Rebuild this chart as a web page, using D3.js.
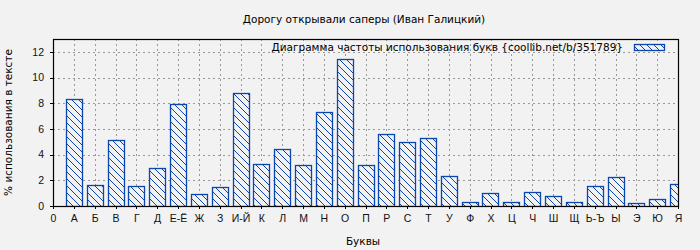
<!DOCTYPE html>
<html>
<head>
<meta charset="utf-8">
<style>
body{
  margin: 0;
  background-color: #f2f2f2;
}
svg{
  display: block;
  font-family: "DejaVu Sans", sans-serif;
}
.grid .tick line{
  stroke: #999;
  stroke-dasharray: 2,3;
  shape-rendering: crispEdges;
}
.grid path{
  stroke-width: 0;
}
.axis text{
  font-size: 10.5px;
  fill: #111;
}
.axis path, .axis line{
  stroke: #000;
  shape-rendering: crispEdges;
}
</style>
</head>
<body>
<script src="https://cdn.jsdelivr.net/npm/d3@7"></script>
<script>
  var WIDTH = 700;
  var HEIGHT = 250;

  var letters = ["А","Б","В","Г","Д","Е-Ё","Ж","З","И-Й","К","Л","М","Н","О","П",
                 "Р","С","Т","У","Ф","Х","Ц","Ч","Ш","Щ","Ь-Ъ","Ы","Э","Ю","Я"];
  var percents = [8.33, 1.62, 5.13, 1.54, 2.94, 7.94, 0.91, 1.46, 8.80, 3.26, 4.43, 3.18, 7.32, 11.46, 3.18,
                  5.60, 4.98, 5.29, 2.32, 0.29, 0.99, 0.29, 1.07, 0.76, 0.29, 1.54, 2.24, 0.21, 0.52, 1.69];
  var yTicks = [0, 2, 4, 6, 8, 10, 12];

  var title = "Дорогу открывали саперы (Иван Галицкий)";
  var legendText = "Диаграмма частоты использования букв {coollib.net/b/351789}";

  var PL = 53, PR = 678, PT = 39, PB = 206;
  var BLUE = "#0a46b0";

  var xScale = d3.scaleLinear()
    .domain([0, letters.length])
    .range([PL, PR]);

  var yScale = d3.scaleLinear()
    .domain([0, 13])
    .range([PB, PT]);

  var svg = d3.select("body").append("svg")
    .attr("width", WIDTH)
    .attr("height", HEIGHT);

  var defs = svg.append("defs");
  var pat = defs.append("pattern")
    .attr("id", "hatch")
    .attr("patternUnits", "userSpaceOnUse")
    .attr("width", 7)
    .attr("height", 7);
  pat.append("rect").attr("width", 7).attr("height", 7).attr("fill", "#f2f2f2");
  pat.append("path")
    .attr("d", "M-1,-1 L8,8 M-1,6 L1,8 M6,-1 L8,1")
    .attr("stroke", BLUE)
    .attr("stroke-width", 1);

  defs.append("clipPath").attr("id", "plotClip")
    .append("rect")
      .attr("x", PL).attr("y", PT)
      .attr("width", PR - PL).attr("height", PB - PT);

  // grid
  var tickVals = d3.range(1, letters.length + 1);
  svg.append("g")
    .attr("class", "grid")
    .attr("transform", `translate(0,${PB})`)
    .call(d3.axisBottom(xScale).tickValues(tickVals).tickSize(-(PB - PT)).tickFormat(""));

  svg.append("g")
    .attr("class", "grid")
    .attr("transform", `translate(${PL},0)`)
    .call(d3.axisLeft(yScale).tickValues(yTicks.slice(1)).tickSize(-(PR - PL)).tickFormat(""));

  // bars
  var barW = 16;
  svg.append("g")
    .attr("clip-path", "url(#plotClip)")
    .selectAll("rect.bar")
    .data(percents)
    .enter()
    .append("rect")
      .attr("class", "bar")
      .attr("x", (d, i) => Math.round(xScale(i + 1) - barW / 2) + 0.5)
      .attr("y", (d) => Math.round(yScale(d)) + 0.5)
      .attr("width", barW)
      .attr("height", (d) => Math.round(yScale(0)) - Math.round(yScale(d)))
      .attr("fill", "url(#hatch)")
      .attr("stroke", BLUE)
      .attr("stroke-width", 1.3);

  // frame
  svg.append("rect")
    .attr("x", PL + 0.5).attr("y", PT + 0.5)
    .attr("width", PR - PL).attr("height", PB - PT)
    .attr("fill", "none")
    .attr("stroke", "#000")
    .attr("stroke-width", 1.2);

  // axes
  svg.append("g")
    .attr("class", "axis")
    .attr("transform", `translate(0,${PB})`)
    .call(d3.axisBottom(xScale)
      .tickValues(d3.range(0, letters.length + 1))
      .tickSize(3).tickPadding(6)
      .tickFormat((d) => d === 0 ? "0" : letters[d - 1]))
    .call((g) => g.select(".domain").remove());

  svg.append("g")
    .attr("class", "axis")
    .attr("transform", `translate(${PL},0)`)
    .call(d3.axisLeft(yScale).tickValues(yTicks).tickSize(3).tickPadding(6))
    .call((g) => g.select(".domain").remove());

  // title and labels
  svg.append("text")
    .attr("x", 364).attr("y", 23)
    .attr("text-anchor", "middle")
    .style("font-size", "10.5px")
    .text(title);

  svg.append("text")
    .attr("x", 363).attr("y", 245)
    .attr("text-anchor", "middle")
    .style("font-size", "10.5px")
    .text("Буквы");

  svg.append("text")
    .attr("transform", `translate(12,${(PT + PB) / 2}) rotate(-90)`)
    .attr("text-anchor", "middle")
    .style("font-size", "10.5px")
    .text("% использования в тексте");

  // legend
  svg.append("text")
    .attr("x", 623).attr("y", 51)
    .attr("text-anchor", "end")
    .style("font-size", "10.5px")
    .text(legendText);

  svg.append("rect")
    .attr("x", 634.5).attr("y", 44.5)
    .attr("width", 30).attr("height", 6)
    .attr("fill", "url(#hatch)")
    .attr("stroke", BLUE)
    .attr("stroke-width", 1.3);
</script>
</body>
</html>
